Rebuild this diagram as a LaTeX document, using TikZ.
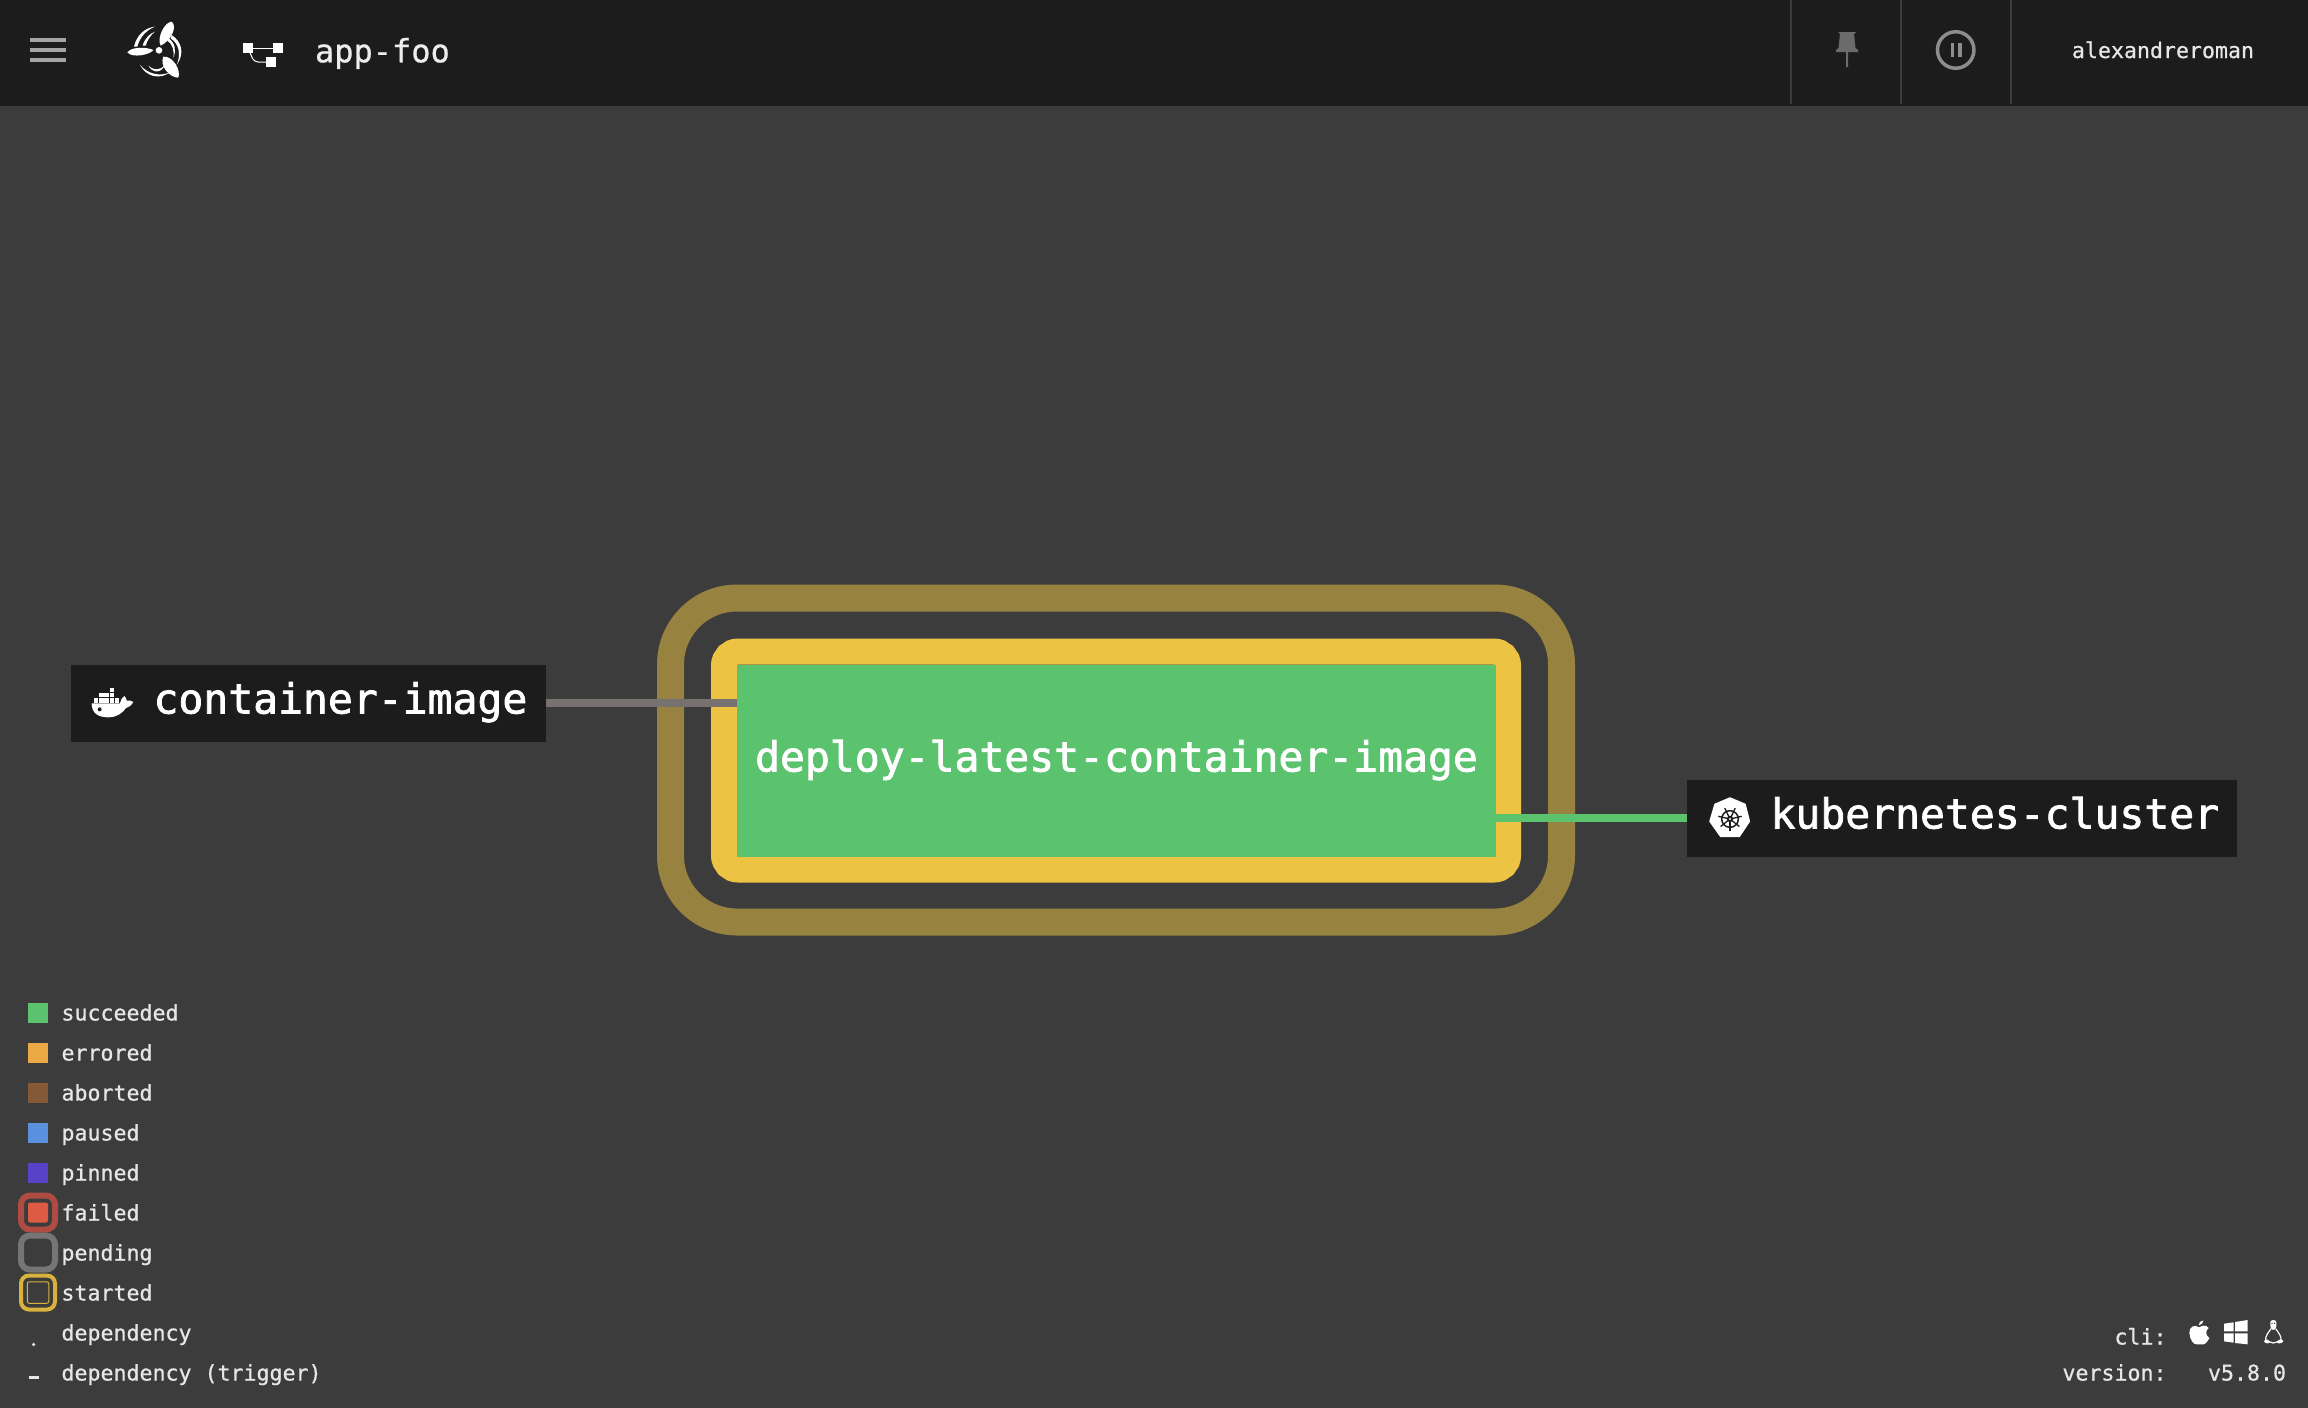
\documentclass[tikz,border=0pt]{standalone}
\usepackage{fontspec}
\newfontfamily\monob[FakeBold=1.8]{DejaVu Sans Mono}
\newfontfamily\monof[FakeBold=0.7]{DejaVu Sans Mono}
\definecolor{bgc}{HTML}{3C3C3C}
\definecolor{barc}{HTML}{1C1C1C}
\definecolor{okc}{HTML}{5BC26E}
\definecolor{yelc}{HTML}{ECC343}
\definecolor{ringc}{HTML}{978240}
\definecolor{edgec}{HTML}{77716F}
\definecolor{txtc}{HTML}{E6E6E6}
\tikzset{
 x=1pt,y=-1pt,
 every node/.style={inner sep=0pt,outer sep=0pt},
 bigtxt/.style={font=\monob\fontsize{41.4}{48}\selectfont,text=white},
 smalltxt/.style={font=\monof\fontsize{21.6}{26}\selectfont,text=txtc},
 resbox/.style={fill=barc,minimum height=77pt},
 swatch/.style={minimum width=20pt,minimum height=20pt},
 sepline/.style={draw=bgc,line width=2pt},
 linkline/.style={line width=8pt},
}
\begin{document}
\begin{tikzpicture}
\useasboundingbox (0,0) rectangle (2308,1408);
\fill[bgc] (0,0) rectangle (2308,1408);
% top bar
\fill[barc] (0,0) rectangle (2308,106);
\foreach \yy in {38,48,58} \fill[white!60!barc] (30,\yy) rectangle (66,\yy+4);
\coordinate (sa) at (1791,0);\coordinate (sb) at (1791,104);
\draw[sepline] (sa)--(sb);
\coordinate (sc) at (1901,0);\coordinate (sd) at (1901,104);
\draw[sepline] (sc)--(sd);
\coordinate (se) at (2011,0);\coordinate (sf) at (2011,104);
\draw[sepline] (se)--(sf);
% logo
\begin{scope}[shift={(120,15)},x=0.3333pt,y=-0.3333pt]
 \fill[white] (117,106) circle[radius=10pt/3*1];
 \fill[white] (22,112) .. controls (36,94) and (80,96) .. (100,105) .. controls (90,120) and (36,130) .. (22,112) -- cycle;
 \fill[white] (155,20) .. controls (174,35) and (152,78) .. (122,92) .. controls (110,70) and (132,22) .. (155,20) -- cycle;
 \fill[white] (130,125) .. controls (158,122) and (184,165) .. (175,188) .. controls (148,188) and (118,152) .. (130,125) -- cycle;
 \fill[white] (42,95) .. controls (50,60) and (75,38) .. (105,35) .. controls (80,45) and (60,65) .. (52,95) -- cycle;
 \fill[white] (68,92) .. controls (74,70) and (90,55) .. (105,50) .. controls (92,60) and (82,75) .. (77,92) -- cycle;
 \fill[white] (155,60) .. controls (185,80) and (195,115) .. (170,150) .. controls (185,115) and (175,85) .. (152,70) -- cycle;
 \fill[white] (145,68) .. controls (165,85) and (170,105) .. (160,128) .. controls (163,105) and (158,88) .. (142,77) -- cycle;
 \fill[white] (60,150) .. controls (85,178) and (120,185) .. (150,172) .. controls (120,194) and (80,187) .. (60,150) -- cycle;
 \fill[white] (85,152) .. controls (100,166) and (118,168) .. (135,150) .. controls (122,177) and (98,174) .. (85,152) -- cycle;
\end{scope}
% flow icon
\node[fill=white,minimum width=10pt,minimum height=10pt] (fa) at (248,48) {};
\node[fill=white,minimum width=10pt,minimum height=10pt] (fb) at (278,48) {};
\node[fill=white,minimum width=10pt,minimum height=10pt] (fc) at (271,62) {};
\draw[white,line width=1pt] (fa)--(fb);
\draw[white,line width=1pt,rounded corners=4pt] (fa.center) -- (254,62) -- (fc.west);
\node[font=\monof\fontsize{32}{38}\selectfont,text=white!93!black,anchor=base west] (apptitle) at (315,62.3) {app-foo};
% pin
\fill[white!35!barc] (1838,32) -- (1856,32) -- (1854,34) -- (1855.5,48) -- (1858,50) -- (1858,52) -- (1848,52) -- (1848,67) -- (1846,67) -- (1846,52) -- (1836,52) -- (1836,50) -- (1838.5,48) -- (1840,34) -- cycle;
% pause
\node[circle,draw=white!50!barc,line width=3.5pt,minimum size=36.5pt] (pausebtn) at (1955.7,50) {};
\fill[white!50!barc] (1950.5,43) rectangle (1954,57);
\fill[white!50!barc] (1958,43) rectangle (1962,57);
\node[smalltxt,anchor=base east] (username) at (2254,58) {alexandreroman};
% rings
\node[draw=ringc,line width=27pt,rounded corners=66.5pt,minimum width=891pt,minimum height=324pt] (outerring) at (1116,760) {};
\node[draw=yelc,line width=26pt,rounded corners=14pt,minimum width=784pt,minimum height=218pt] (innerring) at (1116,760.5) {};
% nodes
\node[fill=okc,minimum width=759pt,minimum height=192pt] (task) at (1116.5,760.5) {};
\node[bigtxt,anchor=base] (tasklabel) at (1116.5,771.5) {deploy-latest-container-image};
\node[resbox,minimum width=475pt] (container) at (308.5,703) {};
\node[resbox,minimum width=550pt] (kube) at (1962,818) {};
\node[bigtxt,anchor=base west] (containerlabel) at (153.5,713.5) {container-image};
\node[bigtxt,anchor=base west] (kubelabel) at (1770.5,828.5) {kubernetes-cluster};
\draw[edgec,linkline] (container.east) -- (task.west |- container.east);
\draw[okc,linkline] (task.east |- kube.west) -- (kube.west);
% docker icon
\begin{scope}[shift={(85,680)},x=0.3333pt,y=-0.3333pt]
 \fill[white] (20,70) -- (105,70) .. controls (106,60) and (112,52) .. (118,48) .. controls (122,52) and (125,58) .. (125,62) .. controls (132,60) and (140,62) .. (145,66) .. controls (138,78) and (130,82) .. (123,84) .. controls (112,100) and (95,112) .. (70,112) .. controls (40,112) and (20,100) .. (20,70) -- cycle;
 \fill[barc] (44,88) circle[radius=2pt];
 \foreach \xx in {27,43,58,74,90} \fill[white] (\xx,55) rectangle +(13,13);
 \foreach \xx in {43,58,74} \fill[white] (\xx,39) rectangle +(13,13);
 \fill[white] (74,23) rectangle +(13,13);
\end{scope}
% kubernetes icon
\begin{scope}[shift={(1705,793)},x=0.3333pt,y=-0.3333pt]
 \fill[white,draw=white,line width=1.5pt,line join=round] (75,15) -- (120,34) -- (133,85) -- (103,130) -- (47,130) -- (15,85) -- (30,34) -- cycle;
 \draw[barc,line width=1.5pt] (75,78) circle[radius=25pt/3];
 \foreach \aa in {90,141.4,192.9,244.3,295.7,347.1,38.6}
   \draw[barc,line width=1.3pt] (75,78) -- ++(\aa:36);
 \fill[barc] (75,78) circle[radius=3.2pt];
 \fill[white] (75,78) circle[radius=1.2pt];
\end{scope}
% legend
\foreach \nm/\cc/\yy/\tt in {a/5BC26E/1012.5/succeeded,b/EBA945/1052.5/errored,c/855935/1092.5/aborted,d/5A91DF/1132.5/paused,e/5842C9/1172.5/pinned}{
 \definecolor{tmpc}{HTML}{\cc}
 \node[swatch,fill=tmpc] (sw\nm) at (38,\yy) {};
 \node[smalltxt,anchor=base west] (lb\nm) at (61.5,\yy+8) {\tt};
}
\definecolor{failr}{HTML}{AE4B42}\definecolor{failf}{HTML}{DD5B43}
\definecolor{penr}{HTML}{757575}\definecolor{star}{HTML}{D9B23E}
\node[draw=failr,line width=6pt,rounded corners=9pt,minimum width=34pt,minimum height=34pt] (rf) at (38,1212.5) {};
\node[fill=failf,rounded corners=2pt,minimum width=20pt,minimum height=20pt] (sf2) at (38,1212.5) {};
\node[smalltxt,anchor=base west] (lbf) at (61.5,1220.5) {failed};
\node[draw=penr,line width=6pt,rounded corners=9pt,minimum width=34pt,minimum height=34pt] (rp) at (38,1252.5) {};
\node[smalltxt,anchor=base west] (lbp) at (61.5,1260.5) {pending};
\node[draw=star,line width=4pt,rounded corners=8pt,minimum width=34pt,minimum height=34pt] (rs) at (38,1292.5) {};
\node[draw=star,line width=1pt,rounded corners=2pt,minimum width=21.5pt,minimum height=21.5pt] (rs2) at (38,1292.5) {};
\node[smalltxt,anchor=base west] (lbs) at (61.5,1300.5) {started};
\node[smalltxt,anchor=base west] (lbg) at (61.5,1340.5) {dependency};
\node[smalltxt,anchor=base west] (lbh) at (61.5,1380.5) {dependency (trigger)};
\node[fill=txtc,circle,minimum size=3.6pt] (dotmark) at (33.6,1344.5) {};
\node[fill=txtc,minimum width=9.5pt,minimum height=2.4pt] (dashmark) at (34,1377.5) {};
% cli
\node[smalltxt,anchor=base east] (lbcli) at (2166.5,1344.5) {cli:};
\node[smalltxt,anchor=base east] (lbver) at (2166.5,1380.5) {version:};
\node[smalltxt,anchor=base east] (lbnum) at (2286,1380.5) {v5.8.0};
\begin{scope}[shift={(2185,1312)},x=0.3333pt,y=-0.3333pt]
 % apple
 \fill[white] (42,46) .. controls (30,36) and (12,44) .. (13,62) .. controls (14,82) and (26,100) .. (36,97) .. controls (42,95) and (44,95) .. (50,97) .. controls (60,100) and (68,88) .. (73,78) .. controls (62,72) and (60,55) .. (71,48) .. controls (62,36) and (50,42) .. (42,46) -- cycle;
 \fill[white] (41,40) .. controls (41,32) and (47,26) .. (55,25) .. controls (55,33) and (49,39) .. (41,40) -- cycle;
 % windows
 \fill[white] (117,35) -- (146,31) -- (146,58) -- (117,58) -- cycle;
 \fill[white] (150,30) -- (188,24) -- (188,58) -- (150,58) -- cycle;
 \fill[white] (117,64) -- (146,64) -- (146,92) -- (117,88) -- cycle;
 \fill[white] (150,64) -- (188,64) -- (188,97) -- (150,93) -- cycle;
 % tux
 \draw[white,line width=1.2pt,line join=round] (258,50) .. controls (250,62) and (240,72) .. (242,86) -- (265,93) -- (288,86) .. controls (290,72) and (280,62) .. (272,50);
 \fill[white] (265,24) .. controls (255,24) and (254,34) .. (256,42) .. controls (256,50) and (262,54) .. (265,54) .. controls (268,54) and (274,50) .. (274,42) .. controls (276,34) and (275,24) .. (265,24) -- cycle;
 \fill[bgc] (261,34) circle[radius=0.7pt];
 \fill[bgc] (269,34) circle[radius=0.7pt];
 \fill[white] (237,88) .. controls (240,80) and (250,80) .. (254,90) .. controls (254,96) and (240,96) .. (237,88) -- cycle;
 \fill[white] (295,88) .. controls (292,80) and (282,80) .. (276,90) .. controls (276,96) and (290,96) .. (295,88) -- cycle;
\end{scope}
\end{tikzpicture}
\end{document}
